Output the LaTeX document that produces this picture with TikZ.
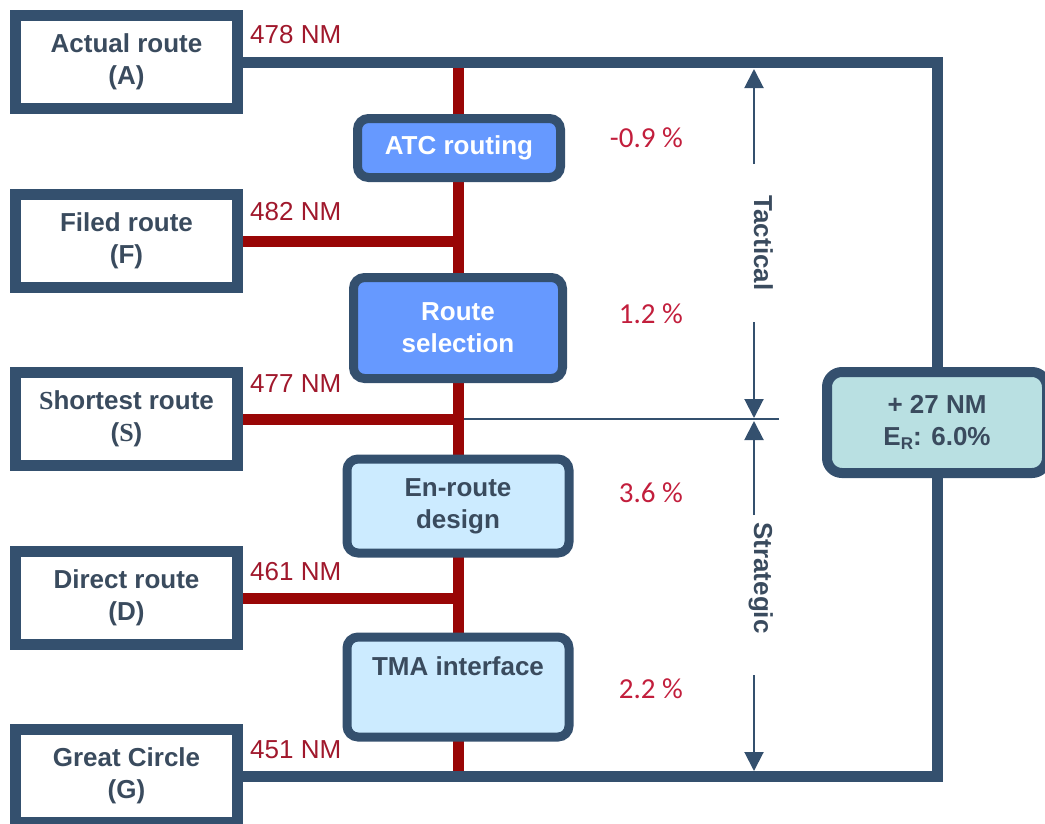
\documentclass[tikz,border=0pt]{standalone}
\usepackage{fontspec}
\setmainfont{Liberation Sans}
\newfontfamily\pctfont{Carlito}
\newfontfamily\serifS{Liberation Serif}
\usetikzlibrary{arrows.meta,backgrounds}
\definecolor{dblue}{HTML}{34506E}
\definecolor{txtblue}{HTML}{3A4B5E}
\definecolor{trunkred}{HTML}{990606}
\definecolor{nmred}{HTML}{A0182C}
\definecolor{pctred}{HTML}{C21E3C}
\definecolor{midblue}{HTML}{6699FF}
\definecolor{lightblue}{HTML}{CCEBFF}
\definecolor{tealfill}{HTML}{B9E0E2}
\newcommand{\bigfont}{\fontsize{26}{32}\selectfont\bfseries}
\begin{document}
\begin{tikzpicture}[x=1pt,y=-1pt,
 leftbox/.style={draw=dblue,line width=11pt,fill=white,minimum width=222pt,minimum height=93pt,inner sep=0pt,align=center,font=\bigfont,text=txtblue},
 cbox/.style={draw=dblue,line width=9pt,rounded corners=11pt,inner sep=0pt,align=center,font=\bigfont},
 nmlabel/.style={anchor=base west,text=nmred,font=\fontsize{26}{30}\selectfont,inner sep=0pt},
 pct/.style={anchor=base east,text=pctred,font=\pctfont\fontsize{29}{30}\selectfont,inner sep=0pt},
 redline/.style={draw=trunkred,line width=11pt},
 darkline/.style={draw=dblue,line width=11pt,line join=miter},
 dimarrow/.style={draw=dblue,line width=2pt,-{Triangle[length=19pt,width=19pt]}},
 sidelabel/.style={rotate=-90,anchor=base,text=txtblue,font=\fontsize{26}{30}\selectfont\bfseries,inner sep=0pt}]
\useasboundingbox (0,0) rectangle (1045,823);

% left boxes
\node[leftbox] (A) at (126.5,62) {Actual route\\(A)};
\node[leftbox] (F) at (126.5,241) {Filed route\\(F)};
\node[leftbox] (S) at (126.5,419) {{\serifS S}hortest route\\({\serifS S})};
\node[leftbox] (D) at (126.5,598) {Direct route\\(D)};
\node[leftbox] (G) at (126.5,776) {Great Circle\\(G)};

% centre boxes
\node[cbox,fill=midblue,text=white,minimum width=203pt,minimum height=59pt] (atc) at (459,148) {ATC routing};
\node[cbox,fill=midblue,text=white,minimum width=209pt,minimum height=101pt] (rs) at (458,328) {Route\\selection};
\node[cbox,fill=lightblue,text=txtblue,minimum width=222pt,minimum height=94pt] (er) at (458,506) {En-route\\design};
\node[cbox,fill=lightblue,text=txtblue,minimum width=222pt,minimum height=100pt] (tma) at (458,687) {TMA interface\\\strut};

% total box
\node[cbox,line width=10pt,rounded corners=15pt,fill=tealfill,text=txtblue,minimum width=220pt,minimum height=101pt] (tot) at (937,422.5) {+ 27 NM\\E{\fontsize{17}{17}\selectfont\raisebox{-4pt}{R}}: 6.0\%};

% distance labels
\node[nmlabel] (nA) at (250,43) {478 NM};
\node[nmlabel] (nF) at (250,220) {482 NM};
\node[nmlabel] (nS) at (250,392) {477 NM};
\node[nmlabel] (nD) at (250,580) {461 NM};
\node[nmlabel] (nG) at (250,758) {451 NM};

% percentages
\node[pct] (p1) at (683,147) {-0.9 \%};
\node[pct] (p2) at (683,323) {1.2 \%};
\node[pct] (p3) at (683,502) {3.6 \%};
\node[pct] (p4) at (683,698) {2.2 \%};

% side labels
\node[sidelabel] (tac) at (754,243) {Tactical};
\node[sidelabel] (str) at (754,578) {Strategic};

% coordinates
\coordinate (NE) at (937,62);
\coordinate (SE) at (937,776);
\coordinate (tTop) at (458,62);
\coordinate (tBot) at (458,776);
\coordinate (tl) at (779,419);
\coordinate (a1s) at (754,164);
\coordinate (a1e) at (754,69);
\coordinate (a2s) at (754,322);
\coordinate (a2e) at (754,418);
\coordinate (a3s) at (754,515);
\coordinate (a3e) at (754,421);
\coordinate (a4s) at (754,675);
\coordinate (a4e) at (754,771);

\begin{scope}[on background layer]
\draw[dblue,line width=1.5pt] (S.east -| tTop) -- (tl);
\draw[redline] (tTop) -- (tBot);
\draw[redline] (F.east) -- (F.east -| tTop);
\draw[redline] (S.east) -- (S.east -| tTop);
\draw[redline] (D.east) -- (D.east -| tTop);
\draw[darkline] (A.east) -- (NE) -- (SE) -- (G.east);
\end{scope}

% dimension arrows
\draw[dimarrow] (a1s) -- (a1e);
\draw[dimarrow] (a2s) -- (a2e);
\draw[dimarrow] (a3s) -- (a3e);
\draw[dimarrow] (a4s) -- (a4e);
\end{tikzpicture}
\end{document}
